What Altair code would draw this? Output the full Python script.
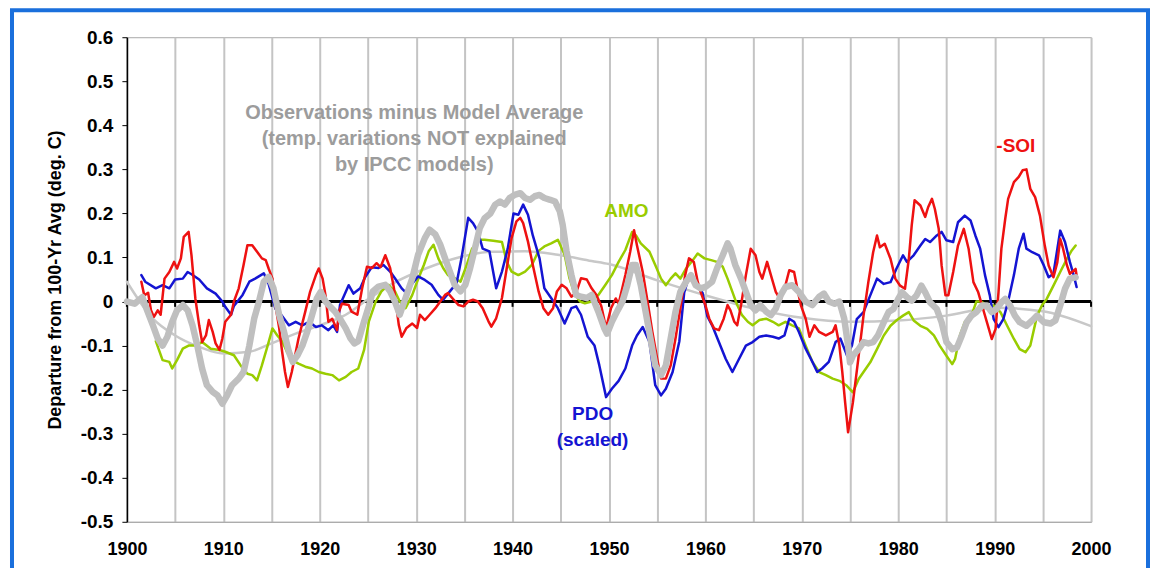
import altair as alt
import pandas as pd

# ---------------- data ----------------
OBS_YEARS = [1900.0, 1900.8, 1901.6, 1902.1, 1902.7, 1903.2, 1903.7, 1904.2, 1904.7, 1905.2, 1905.8, 1906.3,
             1906.8, 1907.3, 1907.8, 1908.3, 1908.9, 1909.4, 1909.9, 1910.4, 1910.9, 1911.6, 1912.1, 1912.7,
             1913.2, 1913.7, 1914.2, 1914.7, 1915.2, 1915.8, 1916.3, 1916.8, 1917.2, 1917.7, 1918.2, 1918.7,
             1919.2, 1919.7, 1920.1, 1920.6, 1921.1, 1921.6, 1922.1, 1922.7, 1923.2, 1923.6, 1924.0, 1924.6,
             1925.1, 1925.5, 1926.1, 1926.8, 1927.3, 1927.8, 1928.3, 1928.9, 1929.6, 1930.2, 1930.9, 1931.4,
             1932.0, 1932.5, 1933.0, 1933.5, 1934.0, 1934.6, 1935.1, 1935.6, 1936.1, 1936.6, 1937.1, 1937.7,
             1938.2, 1938.7, 1939.2, 1939.7, 1940.2, 1940.8, 1941.3, 1941.8, 1942.3, 1942.8, 1943.3, 1943.9,
             1944.4, 1944.9, 1945.2, 1945.6, 1946.1, 1946.6, 1947.1, 1947.7, 1948.2, 1948.9, 1949.5, 1949.8,
             1950.3, 1950.9, 1951.4, 1951.9, 1952.4, 1952.8, 1953.3, 1953.8, 1954.3, 1954.8, 1955.4, 1955.9,
             1956.4, 1956.9, 1957.4, 1958.0, 1958.5, 1959.0, 1959.5, 1960.0, 1960.7, 1961.2, 1961.8, 1962.3,
             1962.6, 1963.1, 1963.7, 1964.2, 1964.7, 1965.2, 1965.7, 1966.3, 1966.8, 1967.3, 1967.8, 1968.3,
             1969.0, 1969.7, 1970.4, 1971.1, 1971.8, 1972.3, 1972.8, 1973.4, 1973.9, 1974.4, 1974.8, 1975.0,
             1975.3, 1975.9, 1976.4, 1976.9, 1977.4, 1977.9, 1978.5, 1979.0, 1979.5, 1980.0, 1980.4, 1980.9,
             1981.4, 1981.9, 1982.4, 1982.8, 1983.3, 1984.0, 1984.5, 1985.0, 1985.6, 1986.1, 1986.6, 1987.1,
             1987.6, 1988.1, 1988.7, 1989.2, 1989.7, 1990.2, 1990.7, 1991.1, 1991.6, 1992.1, 1992.6, 1993.3,
             1993.9, 1994.4, 1995.1, 1995.8, 1996.3, 1996.8, 1997.3, 1997.8, 1998.4]
OBS_VALUES = [0.000, -0.005, 0.010, -0.020, -0.054, -0.084, -0.100, -0.080, -0.046, -0.020, -0.008, -0.020,
              -0.054, -0.100, -0.152, -0.190, -0.205, -0.213, -0.232, -0.213, -0.190, -0.175, -0.160, -0.100,
              -0.039, 0.000, 0.045, 0.056, 0.030, -0.031, -0.069, -0.114, -0.137, -0.122, -0.100, -0.069,
              -0.031, 0.007, 0.022, 0.000, -0.012, -0.023, -0.039, -0.061, -0.084, -0.095, -0.090, -0.045,
              -0.010, 0.023, 0.034, 0.038, 0.023, 0.000, -0.030, 0.008, 0.053, 0.106, 0.144, 0.163,
              0.152, 0.129, 0.098, 0.068, 0.038, 0.023, 0.038, 0.076, 0.121, 0.167, 0.189, 0.200,
              0.220, 0.227, 0.220, 0.235, 0.242, 0.246, 0.235, 0.231, 0.239, 0.242, 0.235, 0.231,
              0.227, 0.205, 0.174, 0.114, 0.061, 0.015, 0.011, 0.008, 0.015, -0.023, -0.060, -0.073,
              -0.046, -0.020, 0.000, 0.037, 0.083, 0.083, 0.037, -0.023, -0.084, -0.145, -0.167, -0.145,
              -0.084, -0.023, 0.022, 0.045, 0.060, 0.037, 0.030, 0.033, 0.045, 0.075, 0.105, 0.132,
              0.120, 0.083, 0.052, 0.022, -0.008, -0.020, -0.008, -0.023, -0.031, -0.016, 0.014, 0.033,
              0.037, 0.022, 0.000, -0.008, 0.011, 0.018, 0.000, -0.005, 0.000, -0.039, -0.100, -0.138,
              -0.123, -0.108, -0.092, -0.095, -0.092, -0.077, -0.047, -0.024, -0.017, 0.006, 0.021, 0.010,
              0.002, 0.014, 0.036, 0.021, -0.002, -0.017, -0.047, -0.092, -0.108, -0.104, -0.077, -0.047,
              -0.032, -0.024, -0.009, -0.009, -0.024, -0.017, -0.002, 0.006, -0.009, -0.032, -0.047, -0.055,
              -0.043, -0.032, -0.047, -0.050, -0.043, -0.009, 0.029, 0.052, 0.055]

TREND_YEARS = [1900.0, 1902.7, 1905.0, 1907.5, 1910.0, 1912.7, 1915.0, 1917.5, 1920.0, 1922.7, 1925.0,
               1927.5, 1931.0, 1934.4, 1937.8, 1941.3, 1944.7, 1948.2, 1950.0, 1955.0, 1960.0, 1965.0,
               1970.0, 1975.0, 1980.0, 1985.0, 1990.0, 1995.0, 2000.0]
TREND_VALUES = [0.045, -0.039, -0.077, -0.103, -0.118, -0.114, -0.095, -0.073, -0.054, -0.030, 0.005,
                0.040, 0.075, 0.100, 0.113, 0.114, 0.106, 0.092, 0.085, 0.048, 0.014, -0.016,
                -0.037, -0.046, -0.043, -0.032, -0.014, -0.022, -0.056]

AMO_YEARS = [1903.0, 1903.7, 1904.4, 1904.7, 1905.2, 1905.8, 1906.4, 1907.1, 1907.8, 1908.7, 1909.6, 1910.2,
             1911.1, 1911.8, 1912.5, 1913.0, 1913.5, 1914.0, 1914.6, 1915.1, 1915.6, 1916.1, 1916.6, 1917.1,
             1917.8, 1918.5, 1919.2, 1919.9, 1920.6, 1921.3, 1922.0, 1922.7, 1923.3, 1924.0, 1924.6, 1925.1,
             1925.8, 1926.4, 1927.1, 1927.8, 1928.3, 1928.9, 1929.6, 1930.1, 1930.8, 1931.3, 1931.8, 1932.3,
             1932.8, 1933.3, 1934.0, 1934.6, 1935.2, 1935.8, 1936.5, 1937.1, 1938.0, 1938.9, 1939.4, 1939.9,
             1940.6, 1941.3, 1942.0, 1942.7, 1943.3, 1944.0, 1944.7, 1945.4, 1945.9, 1946.4, 1947.0, 1947.5,
             1948.2, 1948.9, 1949.6, 1950.3, 1951.0, 1951.7, 1952.4, 1952.8, 1953.3, 1954.2, 1954.8, 1955.4,
             1955.9, 1956.4, 1956.9, 1957.4, 1958.0, 1958.7, 1959.2, 1959.9, 1960.6, 1961.2, 1961.8, 1962.3,
             1962.8, 1963.3, 1963.8, 1964.4, 1964.9, 1965.6, 1966.3, 1967.0, 1967.6, 1968.3, 1969.0, 1969.7,
             1970.4, 1971.1, 1971.8, 1972.5, 1973.2, 1973.9, 1974.6, 1975.3, 1975.9, 1976.4, 1977.1, 1977.8,
             1978.5, 1979.2, 1979.8, 1980.5, 1981.1, 1981.6, 1982.3, 1983.0, 1983.7, 1984.3, 1985.0, 1985.6,
             1985.9, 1986.4, 1986.9, 1987.6, 1988.1, 1988.6, 1989.2, 1989.9, 1990.6, 1991.3, 1992.0, 1992.6,
             1993.2, 1993.7, 1994.4, 1994.9, 1995.4, 1996.1, 1996.8, 1997.5, 1998.0, 1998.4]
AMO_VALUES = [-0.090, -0.133, -0.137, -0.152, -0.133, -0.107, -0.100, -0.100, -0.092, -0.107, -0.110, -0.114,
              -0.122, -0.145, -0.164, -0.167, -0.179, -0.145, -0.100, -0.061, -0.077, -0.090, -0.114, -0.133,
              -0.141, -0.148, -0.152, -0.160, -0.164, -0.167, -0.179, -0.171, -0.160, -0.152, -0.110, -0.045,
              0.000, 0.023, 0.038, 0.023, 0.000, -0.015, 0.015, 0.045, 0.083, 0.114, 0.129, 0.098,
              0.076, 0.060, 0.053, 0.045, 0.080, 0.120, 0.140, 0.140, 0.138, 0.135, 0.090, 0.068,
              0.060, 0.068, 0.083, 0.115, 0.125, 0.132, 0.140, 0.106, 0.053, 0.019, 0.000, -0.004,
              0.000, 0.015, 0.037, 0.060, 0.090, 0.117, 0.158, 0.150, 0.132, 0.113, 0.083, 0.052,
              0.037, 0.052, 0.064, 0.052, 0.075, 0.094, 0.109, 0.098, 0.094, 0.090, 0.079, 0.052,
              0.022, -0.008, -0.031, -0.046, -0.054, -0.042, -0.039, -0.046, -0.054, -0.046, -0.054, -0.061,
              -0.100, -0.137, -0.160, -0.167, -0.175, -0.180, -0.190, -0.206, -0.176, -0.160, -0.138, -0.108,
              -0.077, -0.055, -0.043, -0.032, -0.024, -0.043, -0.055, -0.062, -0.077, -0.100, -0.123, -0.142,
              -0.130, -0.077, -0.047, -0.032, 0.000, 0.000, -0.009, -0.009, -0.024, -0.055, -0.085, -0.108,
              -0.115, -0.100, -0.032, -0.009, 0.006, 0.036, 0.067, 0.097, 0.116, 0.127]

PDO_YEARS = [1901.5, 1901.9, 1903.0, 1903.7, 1904.4, 1905.0, 1905.8, 1906.3, 1906.7, 1907.5, 1908.3, 1909.2,
             1909.9, 1910.2, 1910.8, 1911.1, 1912.0, 1912.7, 1913.3, 1914.2, 1914.7, 1915.4, 1916.0, 1916.8,
             1917.5, 1918.2, 1918.9, 1919.6, 1920.2, 1920.9, 1921.4, 1921.8, 1922.1, 1923.0, 1923.5, 1924.2,
             1924.7, 1925.4, 1926.1, 1926.6, 1927.3, 1927.8, 1928.5, 1929.0, 1929.5, 1930.2, 1930.9, 1931.6,
             1932.3, 1932.8, 1933.5, 1934.2, 1934.7, 1935.4, 1935.9, 1936.4, 1936.9, 1937.6, 1938.3, 1938.9,
             1939.5, 1940.1, 1940.6, 1941.1, 1941.6, 1942.1, 1942.8, 1943.3, 1944.0, 1944.7, 1945.4, 1946.1,
             1946.6, 1947.1, 1947.8, 1948.5, 1949.0, 1949.7, 1950.3, 1951.0, 1951.7, 1952.4, 1952.9, 1953.5,
             1954.2, 1954.8, 1955.4, 1955.9, 1956.6, 1957.3, 1957.8, 1958.3, 1958.8, 1959.7, 1960.2, 1960.7,
             1961.4, 1962.1, 1962.8, 1963.5, 1964.2, 1964.9, 1965.6, 1966.3, 1967.0, 1967.6, 1968.2, 1968.7,
             1969.2, 1969.7, 1970.4, 1971.1, 1971.6, 1972.1, 1972.8, 1973.5, 1974.0, 1974.7, 1975.2, 1975.7,
             1976.4, 1977.1, 1977.8, 1978.5, 1979.2, 1979.8, 1980.5, 1980.9, 1981.6, 1982.3, 1982.8, 1983.3,
             1984.0, 1984.5, 1985.0, 1985.7, 1986.2, 1986.9, 1987.5, 1988.0, 1988.5, 1989.0, 1989.5, 1989.9,
             1990.4, 1990.9, 1991.4, 1992.0, 1992.5, 1993.0, 1993.3, 1993.9, 1994.6, 1995.1, 1995.6, 1996.1,
             1996.8, 1997.3, 1997.8, 1998.2, 1998.5]
PDO_VALUES = [0.060, 0.045, 0.030, 0.037, 0.030, 0.050, 0.052, 0.067, 0.062, 0.050, 0.030, 0.018,
              0.000, -0.012, -0.030, -0.010, 0.015, 0.045, 0.052, 0.064, 0.040, -0.016, -0.030, -0.054,
              -0.046, -0.054, -0.046, -0.058, -0.054, -0.065, -0.054, -0.069, -0.008, 0.037, 0.018, 0.030,
              0.055, 0.078, 0.076, 0.083, 0.068, 0.053, 0.030, 0.019, 0.038, 0.057, 0.049, 0.038,
              0.015, 0.004, 0.023, 0.042, 0.098, 0.190, 0.178, 0.159, 0.120, 0.114, 0.030, 0.068,
              0.120, 0.200, 0.197, 0.220, 0.197, 0.150, 0.098, 0.030, 0.008, -0.015, -0.050, -0.015,
              -0.011, -0.030, -0.080, -0.100, -0.145, -0.217, -0.198, -0.180, -0.152, -0.100, -0.077, -0.058,
              -0.092, -0.190, -0.213, -0.198, -0.160, -0.090, 0.020, 0.057, 0.045, 0.020, -0.033, -0.054,
              -0.092, -0.130, -0.160, -0.130, -0.100, -0.092, -0.080, -0.077, -0.080, -0.084, -0.077, -0.039,
              -0.046, -0.069, -0.107, -0.137, -0.160, -0.152, -0.137, -0.092, -0.084, -0.123, -0.100, -0.040,
              -0.024, 0.014, 0.052, 0.040, 0.044, 0.074, 0.105, 0.090, 0.105, 0.127, 0.142, 0.135,
              0.150, 0.158, 0.139, 0.135, 0.180, 0.195, 0.184, 0.150, 0.120, 0.060, 0.014, -0.040,
              -0.058, -0.040, 0.000, 0.060, 0.120, 0.154, 0.120, 0.112, 0.105, 0.082, 0.055, 0.063,
              0.161, 0.135, 0.090, 0.060, 0.033]

SOI_YEARS = [1901.5, 1901.8, 1902.2, 1902.5, 1902.8, 1903.2, 1903.5, 1903.9, 1904.4, 1904.9, 1905.2, 1905.6,
             1905.9, 1906.4, 1906.7, 1907.1, 1907.5, 1907.8, 1908.2, 1908.5, 1908.9, 1909.2, 1909.6, 1909.9,
             1910.2, 1910.8, 1911.1, 1911.6, 1912.1, 1912.5, 1913.0, 1913.5, 1914.0, 1914.4, 1914.7, 1915.1,
             1915.4, 1915.8, 1916.1, 1916.4, 1916.7, 1917.1, 1917.8, 1918.5, 1919.0, 1919.6, 1919.9, 1920.3,
             1920.6, 1920.9, 1921.3, 1921.8, 1922.0, 1922.3, 1923.0, 1923.3, 1923.9, 1924.4, 1924.9, 1925.4,
             1925.9, 1926.3, 1926.8, 1927.3, 1927.7, 1928.2, 1928.5, 1929.0, 1929.6, 1930.1, 1930.4, 1930.9,
             1931.4, 1932.0, 1932.5, 1933.0, 1933.3, 1933.9, 1934.4, 1934.9, 1935.4, 1935.9, 1936.4, 1936.9,
             1937.5, 1937.8, 1938.3, 1938.9, 1939.4, 1939.9, 1940.4, 1940.8, 1941.1, 1941.6, 1942.1, 1942.7,
             1943.2, 1943.7, 1944.2, 1944.6, 1945.1, 1945.6, 1946.1, 1946.6, 1947.1, 1947.7, 1948.2, 1948.7,
             1949.2, 1949.7, 1950.2, 1950.7, 1951.0, 1951.7, 1952.2, 1952.6, 1952.9, 1953.5, 1954.0, 1954.5,
             1955.0, 1955.4, 1955.9, 1956.4, 1956.9, 1957.4, 1957.9, 1958.3, 1958.8, 1959.2, 1959.5, 1960.0,
             1960.4, 1960.9, 1961.4, 1961.9, 1962.3, 1962.6, 1963.0, 1963.3, 1963.7, 1964.2, 1964.7, 1965.2,
             1965.6, 1965.9, 1966.4, 1966.9, 1967.3, 1967.8, 1968.3, 1968.7, 1969.2, 1969.6, 1969.9, 1970.4,
             1970.8, 1971.3, 1971.8, 1972.5, 1973.2, 1973.5, 1973.9, 1974.2, 1974.5, 1974.8, 1975.3, 1975.9,
             1976.4, 1976.9, 1977.4, 1977.8, 1978.1, 1978.6, 1979.2, 1979.7, 1980.2, 1980.7, 1981.1, 1981.4,
             1981.7, 1982.3, 1982.8, 1983.1, 1983.5, 1983.8, 1984.2, 1984.5, 1984.9, 1985.2, 1985.7, 1986.2,
             1986.8, 1987.3, 1987.8, 1988.3, 1988.8, 1989.4, 1989.7, 1990.1, 1990.4, 1990.7, 1991.1, 1991.4,
             1992.0, 1992.5, 1992.9, 1993.3, 1993.7, 1994.2, 1994.7, 1995.2, 1995.6, 1996.1, 1996.5, 1996.8,
             1997.1, 1997.5, 1997.8, 1998.4, 1998.5]
SOI_VALUES = [0.045, 0.014, 0.020, -0.020, -0.035, -0.020, -0.030, 0.052, 0.067, 0.090, 0.075, 0.098,
              0.147, 0.158, 0.105, 0.007, -0.054, -0.092, -0.077, -0.042, -0.069, -0.095, -0.110, -0.084,
              -0.046, -0.030, 0.000, 0.030, 0.083, 0.128, 0.128, 0.113, 0.098, 0.094, 0.075, 0.052,
              -0.008, -0.061, -0.114, -0.160, -0.194, -0.160, -0.084, -0.023, 0.022, 0.060, 0.075, 0.052,
              0.014, -0.046, -0.039, -0.065, -0.023, -0.005, -0.008, -0.023, -0.030, 0.030, 0.079, 0.076,
              0.087, 0.078, 0.105, 0.076, 0.030, -0.053, -0.080, -0.060, -0.050, -0.060, -0.030, -0.042,
              -0.030, -0.015, 0.000, 0.015, 0.019, 0.004, -0.008, -0.011, 0.000, 0.004, 0.000, -0.015,
              -0.045, -0.057, -0.038, 0.008, 0.076, 0.144, 0.182, 0.190, 0.178, 0.136, 0.083, 0.023,
              -0.015, -0.030, -0.015, 0.023, 0.038, 0.030, 0.011, 0.020, 0.053, 0.050, 0.030, 0.015,
              -0.010, -0.060, -0.016, 0.007, -0.005, 0.060, 0.113, 0.162, 0.128, 0.067, 0.000, -0.069,
              -0.130, -0.175, -0.175, -0.145, -0.084, -0.016, 0.060, 0.098, 0.090, 0.045, 0.022, -0.008,
              -0.039, -0.061, -0.065, -0.039, -0.008, -0.020, -0.046, -0.054, -0.008, 0.060, 0.120, 0.105,
              0.067, 0.052, 0.090, 0.052, 0.022, 0.003, 0.037, 0.071, 0.067, 0.022, -0.008, -0.039,
              -0.080, -0.054, -0.069, -0.077, -0.069, -0.054, -0.100, -0.160, -0.230, -0.297, -0.229, -0.123,
              -0.032, 0.044, 0.112, 0.150, 0.123, 0.131, 0.097, 0.052, 0.036, 0.029, 0.097, 0.173,
              0.230, 0.218, 0.192, 0.214, 0.233, 0.210, 0.165, 0.082, 0.014, 0.014, 0.067, 0.127,
              0.165, 0.120, 0.044, 0.021, -0.017, -0.062, -0.085, -0.062, 0.021, 0.120, 0.188, 0.233,
              0.271, 0.283, 0.298, 0.300, 0.256, 0.237, 0.195, 0.127, 0.082, 0.055, 0.089, 0.142,
              0.120, 0.082, 0.063, 0.074, 0.059]

GRID_YEARS = list(range(1900, 2001, 5))
Y_TICKS = [round(-0.5 + 0.1 * i, 1) for i in range(12)]

NOTE_LINES = ["Observations minus Model Average", "(temp. variations NOT explained", "by IPCC models)"]
NOTE_X = [1929.8, 1929.8, 1929.8]
NOTE_Y = [0.429, 0.370, 0.309]

LABEL_TEXT = ["AMO", "PDO", "(scaled)", "-SOI"]
LABEL_X = [1951.8, 1948.3, 1948.3, 1992.2]
LABEL_Y = [0.206, -0.256, -0.315, 0.354]
LABEL_SERIES = ["AMO", "PDO", "PDO", "SOI"]

COLORS = {"AMO": "#99cc00", "PDO": "#1414d2", "SOI": "#ee1111"}

# ---------------- chart ----------------
FONT = "Liberation Sans"
W, H = 965, 485

xs = alt.Scale(domain=[1900, 2000], nice=False, zero=False)
ys = alt.Scale(domain=[-0.5, 0.6], nice=False, zero=False)

x_axis = alt.Axis(values=GRID_YEARS, grid=True, gridColor="#c4c4c4", gridWidth=2,
                  ticks=False, tickSize=0, domain=True, domainColor="#a8a8a8", domainWidth=1,
                  labelExpr="datum.value % 10 == 0 ? datum.label : ''", format="d",
                  labelFont=FONT, labelFontSize=18, labelFontWeight="bold", labelColor="black",
                  labelPadding=19, labelFlush=False, labelOverlap=False, title=None)
y_axis = alt.Axis(values=Y_TICKS, grid=False, ticks=True, tickSize=5, tickColor="black", tickWidth=1,
                  domain=True, domainColor="black", domainWidth=1.5,
                  labelExpr="datum.value == 0 ? '0' : replace(format(datum.value, '.1f'), '\u2212', '-')",
                  labelFont=FONT, labelFontSize=19, labelFontWeight="bold", labelColor="black",
                  labelPadding=9, labelFlush=False, labelOverlap=False,
                  title="Departure from 100-Yr Avg (deg. C)", titleFont=FONT, titleFontSize=18,
                  titleFontWeight="bold", titleColor="black", titleX=-71, titleY=H / 2,
                  titleAngle=-90, titleAlign="center", titleBaseline="middle")


def X(field):
    return alt.X(field, scale=xs, axis=x_axis)


def Y(field):
    return alt.Y(field, scale=ys, axis=y_axis)


def frame(years, values):
    return pd.DataFrame({"year": years, "value": values})


border = alt.Chart(pd.DataFrame({"k": [0]})).mark_rect(
    filled=False, stroke="#1a6fdc", strokeWidth=4
).encode(x=alt.value(-115), x2=alt.value(1022), y=alt.value(-27), y2=alt.value(560))

zero_line = alt.Chart(pd.DataFrame({"year": [1900], "value": [0.0]})).mark_rule(
    color="black", strokeWidth=3
).encode(y=Y("value:Q"))

zero_ticks = alt.Chart(pd.DataFrame({"year": GRID_YEARS, "value": [0.0] * len(GRID_YEARS),
                                     "low": [-0.012] * len(GRID_YEARS)})).mark_rule(
    color="black", strokeWidth=2
).encode(x=X("year:Q"), y=Y("value:Q"), y2="low:Q")


def series_line(years, values, color, width, interp="linear"):
    return alt.Chart(frame(years, values)).mark_line(
        color=color, strokeWidth=width, strokeJoin="round", strokeCap="round", interpolate=interp
    ).encode(x=X("year:Q"), y=Y("value:Q"))


trend = series_line(TREND_YEARS, TREND_VALUES, "#c8c8c8", 2.5, "monotone")
amo = series_line(AMO_YEARS, AMO_VALUES, COLORS["AMO"], 2.5)
pdo = series_line(PDO_YEARS, PDO_VALUES, COLORS["PDO"], 2.5)
soi = series_line(SOI_YEARS, SOI_VALUES, COLORS["SOI"], 2.5)
obs = series_line(OBS_YEARS, OBS_VALUES, "#bfbfbf", 6.5)

notes = alt.Chart(pd.DataFrame({"t": NOTE_LINES, "year": NOTE_X, "value": NOTE_Y})).mark_text(
    font=FONT, fontSize=20, fontWeight="bold", color="#9c9c9c", align="center", baseline="middle"
).encode(x=X("year:Q"), y=Y("value:Q"), text="t:N")

labels = alt.Chart(pd.DataFrame({"t": LABEL_TEXT, "year": LABEL_X, "value": LABEL_Y,
                                 "s": LABEL_SERIES})).mark_text(
    font=FONT, fontSize=19, fontWeight="bold", align="center", baseline="middle"
).encode(
    x=X("year:Q"), y=Y("value:Q"), text="t:N",
    color=alt.Color("s:N", scale=alt.Scale(domain=list(COLORS.keys()), range=list(COLORS.values())),
                    legend=None),
)

chart = alt.layer(
    border, zero_line, zero_ticks, trend, amo, pdo, soi, obs, notes, labels
).properties(
    width=W, height=H,
    autosize=alt.AutoSizeParams(type="none"),
    padding={"left": 119, "top": 29, "right": 60, "bottom": 46},
    background="white",
).configure_view(
    stroke="#a8a8a8", strokeWidth=1
)

chart.save("out.html", embed_options={"renderer": "svg", "actions": False})
